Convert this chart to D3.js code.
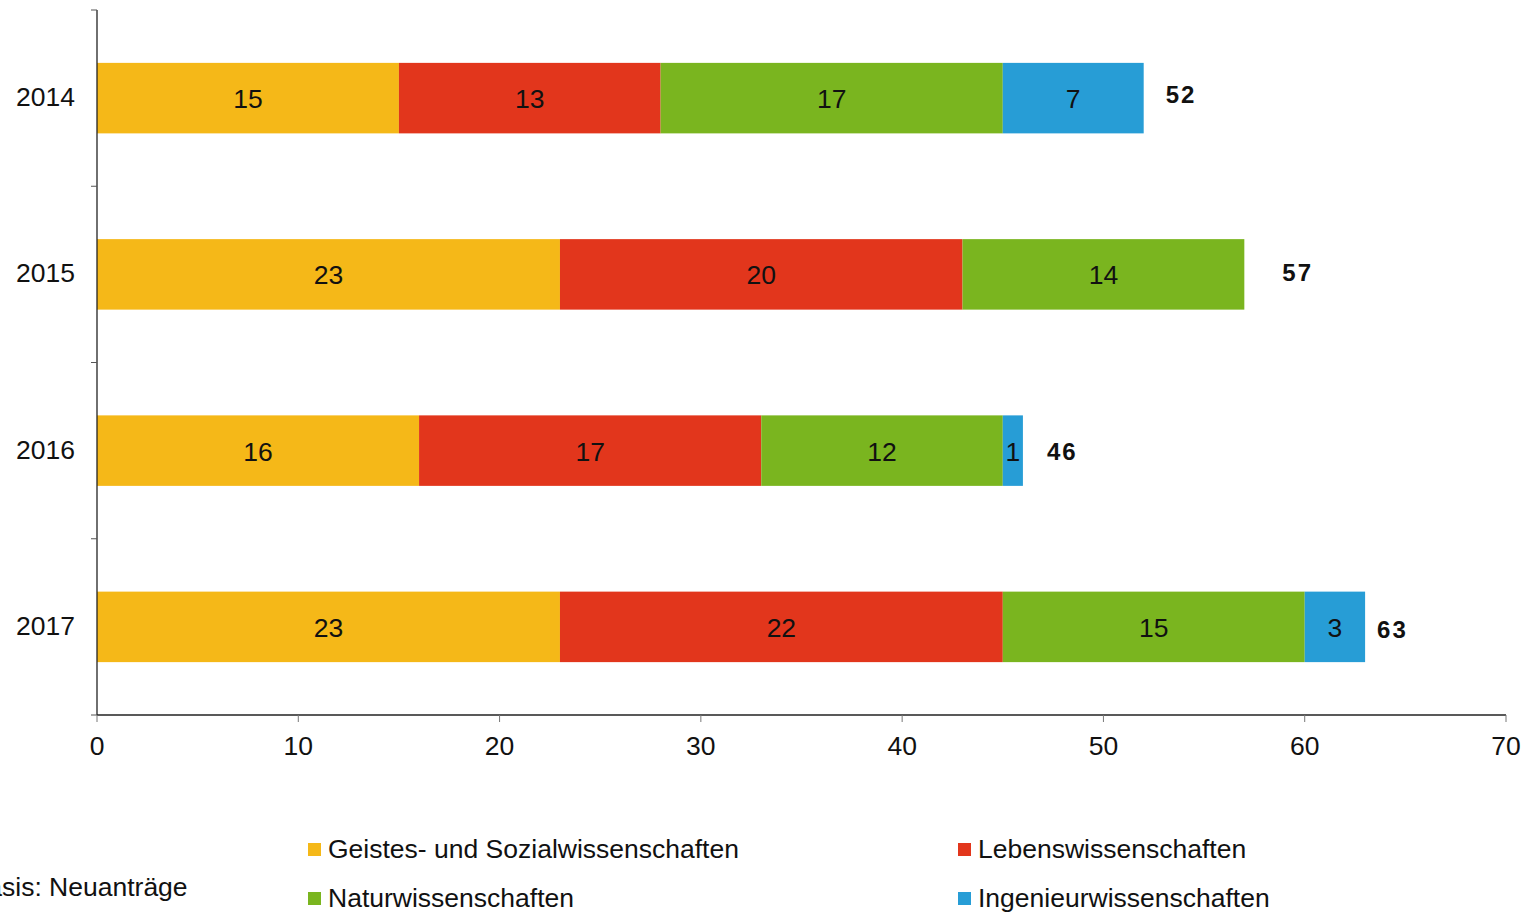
<!DOCTYPE html>
<html>
<head>
<meta charset="utf-8">
<script src="https://cdn.jsdelivr.net/npm/d3@7"></script>
<style>
  html, body { margin: 0; padding: 0; background: #fff; }
  svg { display: block; }
  text { font-family: "Liberation Sans", Arial, sans-serif; }
</style>
</head>
<body>
<svg id="chart" width="1527" height="913"></svg>
<script>
// Neuanträge nach Wissenschaftsbereich und Jahr
const years = ["2014", "2015", "2016", "2017"];
const seriesNames = ["Geistes- und Sozialwissenschaften", "Lebenswissenschaften", "Naturwissenschaften", "Ingenieurwissenschaften"];
const seriesColors = ["#F5B818", "#E2361C", "#7AB51F", "#279DD6"];
const geistes = [15, 23, 16, 23];
const leben = [13, 20, 17, 22];
const natur = [17, 14, 12, 15];
const ingenieur = [7, 0, 1, 3];
const xTicks = [0, 10, 20, 30, 40, 50, 60, 70];

const FS = 26.5;
const svg = d3.select("#chart");
const margin = { left: 97, right: 21, top: 10, bottom: 198 };
const W = 1527, H = 913;

const table = years.map((y, i) => ({
  year: y,
  [seriesNames[0]]: geistes[i],
  [seriesNames[1]]: leben[i],
  [seriesNames[2]]: natur[i],
  [seriesNames[3]]: ingenieur[i]
}));

const x = d3.scaleLinear().domain([0, 70]).range([margin.left, W - margin.right]);
const y = d3.scaleBand().domain(years).range([margin.top, H - margin.bottom]).paddingInner(0.6).paddingOuter(0.3);
const yOuter = d3.scaleBand().domain(years).range([margin.top, H - margin.bottom]);

const stack = d3.stack().keys(seriesNames);
const layers = stack(table);

// stacked bar segments
const g = svg.append("g");
layers.forEach((layer, li) => {
  const lg = g.append("g").attr("fill", seriesColors[li]);
  lg.selectAll("rect").data(layer.filter(d => d[1] - d[0] > 0)).join("rect")
    .attr("x", d => x(d[0]))
    .attr("y", d => y(d.data.year))
    .attr("width", d => x(d[1]) - x(d[0]))
    .attr("height", y.bandwidth());
  g.append("g").selectAll("text").data(layer.filter(d => d[1] - d[0] > 0)).join("text")
    .attr("x", d => (x(d[0]) + x(d[1])) / 2)
    .attr("y", d => y(d.data.year) + y.bandwidth() / 2 + 10)
    .attr("text-anchor", "middle")
    .attr("font-size", FS)
    .attr("fill", "#111")
    .text(d => d[1] - d[0]);
});

// totals beside each bar (label gaps vary per row)
const totals = years.map((yr, i) => ({ year: yr, total: geistes[i] + leben[i] + natur[i] + ingenieur[i], i }));
const totalGapX = [22, 38, 24, 12];
const totalShiftY = [-2, 0, 2, 4];
g.append("g").selectAll("text").data(totals).join("text")
  .attr("x", d => x(d.total) + totalGapX[d.i])
  .attr("y", d => y(d.year) + y.bandwidth() / 2 + 7 + totalShiftY[d.i])
  .attr("font-family", "Lato, 'DejaVu Sans', sans-serif")
  .attr("font-weight", 900)
  .attr("font-size", 24)
  .attr("letter-spacing", 2)
  .attr("fill", "#111")
  .text(d => d.total);

// y axis
const yAxisG = svg.append("g");
yAxisG.append("line")
  .attr("x1", margin.left).attr("x2", margin.left)
  .attr("y1", margin.top).attr("y2", H - margin.bottom)
  .attr("stroke", "#222").attr("stroke-width", 1.3);
const yBounds = years.map(v => yOuter(v)).concat([H - margin.bottom]);
yAxisG.selectAll("line.tick").data(yBounds).join("line")
  .attr("class", "tick")
  .attr("x1", margin.left - 6).attr("x2", margin.left)
  .attr("y1", d => d).attr("y2", d => d)
  .attr("stroke", "#555");
yAxisG.selectAll("text").data(years).join("text")
  .attr("x", 75)
  .attr("y", d => y(d) + y.bandwidth() / 2 + 8)
  .attr("text-anchor", "end")
  .attr("font-size", FS)
  .attr("fill", "#111")
  .text(d => d);

// x axis
const xAxisG = svg.append("g").attr("transform", `translate(0,${H - margin.bottom})`);
xAxisG.append("line")
  .attr("x1", margin.left).attr("x2", W - margin.right)
  .attr("stroke", "#222").attr("stroke-width", 1.3);
xAxisG.selectAll("line.tick").data(xTicks).join("line")
  .attr("class", "tick")
  .attr("x1", d => x(d)).attr("x2", d => x(d))
  .attr("y1", 0).attr("y2", 7)
  .attr("stroke", "#777");
xAxisG.selectAll("text").data(xTicks).join("text")
  .attr("x", d => x(d))
  .attr("y", 40)
  .attr("text-anchor", "middle")
  .attr("font-size", FS)
  .attr("fill", "#111")
  .text(d => d);

// legend
const legendPos = [[308, 849], [958, 849], [308, 898], [958, 898]];
const legend = svg.append("g");
seriesNames.forEach((name, i) => {
  const [lx, ly] = legendPos[i];
  legend.append("rect")
    .attr("x", lx).attr("y", ly - 6).attr("width", 13).attr("height", 13)
    .attr("fill", seriesColors[i]);
  legend.append("text")
    .attr("x", lx + 20).attr("y", ly + 9)
    .attr("font-size", FS)
    .attr("fill", "#111")
    .text(name);
});

// source note, running off the left edge of the page
const probe = svg.append("text").attr("font-size", FS).text("Ba");
const baWidth = probe.node().getComputedTextLength();
probe.remove();
svg.append("text")
  .attr("x", 2 - baWidth).attr("y", 896)
  .attr("font-size", FS)
  .attr("fill", "#111")
  .text("Basis: Neuanträge");
</script>
</body>
</html>
